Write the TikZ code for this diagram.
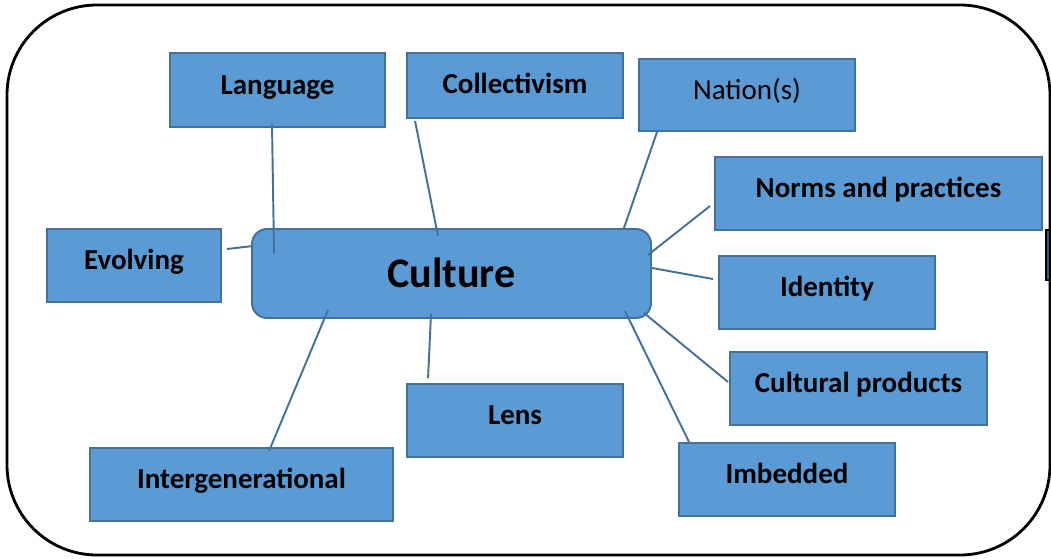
\documentclass[tikz,border=0pt]{standalone}
\usepackage{fontspec}
\setmainfont{Carlito}
\usepackage{xcolor}
\usepackage{tikz}
\usetikzlibrary{calc}

\definecolor{boxfill}{HTML}{5B9BD5}
\definecolor{boxline}{HTML}{41719C}
\definecolor{stubfill}{HTML}{2E5C8A}

\tikzset{
  idea/.style={draw=boxline, fill=boxfill, line width=1.1pt, inner sep=0pt,
    text height=11pt, text depth=6pt,
    font=\fontsize{16.5}{20}\selectfont\bfseries},
  link/.style={draw=boxline, line width=1.1pt}
}

\begin{document}
\begin{tikzpicture}[x=0.2mm,y=-0.2mm]

\useasboundingbox (0,0) rectangle (1051,558);

% Frame
\draw[line width=1.6pt, rounded corners=18mm] (7,5) rectangle (1050,555);
\draw[line width=1pt, fill=stubfill] (1046,230) rectangle (1049.5,280);

% Centre
\node[idea, rounded corners=3mm, minimum width=79.8mm, minimum height=17.8mm,
  text height=16pt, text depth=0.5pt, font=\fontsize{24}{28}\selectfont\bfseries]
  (culture) at (451.5,273.5) {Culture};

% Boxes around it
\node[idea, minimum width=43mm, minimum height=14.8mm] (lang) at (277.5,90) {Language};
\node[idea, minimum width=43.2mm, minimum height=13mm, text depth=2pt] (coll) at (515,85.5) {Collectivism};
\node[idea, minimum width=43.2mm, minimum height=14.4mm, font=\fontsize{16.5}{20}\selectfont]
  (nation) at (747,95) {Nation(s)};
\node[idea, minimum width=65.4mm, minimum height=14.6mm] (norms) at (878.5,193.5) {Norms and practices};
\node[idea, minimum width=43.2mm, minimum height=14.6mm] (ident) at (827,292.5) {Identity};
\node[idea, minimum width=51.4mm, minimum height=14.6mm] (prod) at (858.5,388.5) {Cultural products};
\node[idea, minimum width=43.2mm, minimum height=14.6mm] (imb) at (787,479.5) {Imbedded};
\node[idea, minimum width=43.2mm, minimum height=14.6mm] (lens) at (515,420.5) {Lens};
\node[idea, minimum width=60.6mm, minimum height=14.6mm] (inter) at (241.5,484.5) {Intergenerational};
\node[idea, minimum width=34.8mm, minimum height=14.6mm] (evolv) at (134,265.5) {Evolving};

% Links
\draw[link] ([shift={(-5.5,-4)}]lang.south) -- ([shift={(23,25)}]culture.north west);
\draw[link] ([shift={(9,2)}]coll.south west) -- ([shift={(-13.5,8)}]culture.north);
\draw[link] ([shift={(19,0)}]nation.south west) -- ([shift={(-28,0)}]culture.north east);
\draw[link] ([shift={(-4,12.5)}]norms.west) -- ([shift={(-4,-18.5)}]culture.east);
\draw[link] ([shift={(-5,-13.5)}]ident.west) -- ([shift={(0,-5.5)}]culture.east);
\draw[link] ([shift={(-1,-6.5)}]prod.west) -- ([shift={(-8,-6)}]culture.south east);
\draw[link] ([shift={(11,0)}]imb.north west) -- ([shift={(-27,-8)}]culture.south east);
\draw[link] ([shift={(22,-5)}]lens.north west) -- ([shift={(-20.5,-5)}]culture.south);
\draw[link] ([shift={(27.5,4)}]inter.north) -- ([shift={(77,-9)}]culture.south west);
\draw[link] ([shift={(5,-16.5)}]evolv.east) -- ([shift={(2,-27.5)}]culture.west);

\end{tikzpicture}
\end{document}
